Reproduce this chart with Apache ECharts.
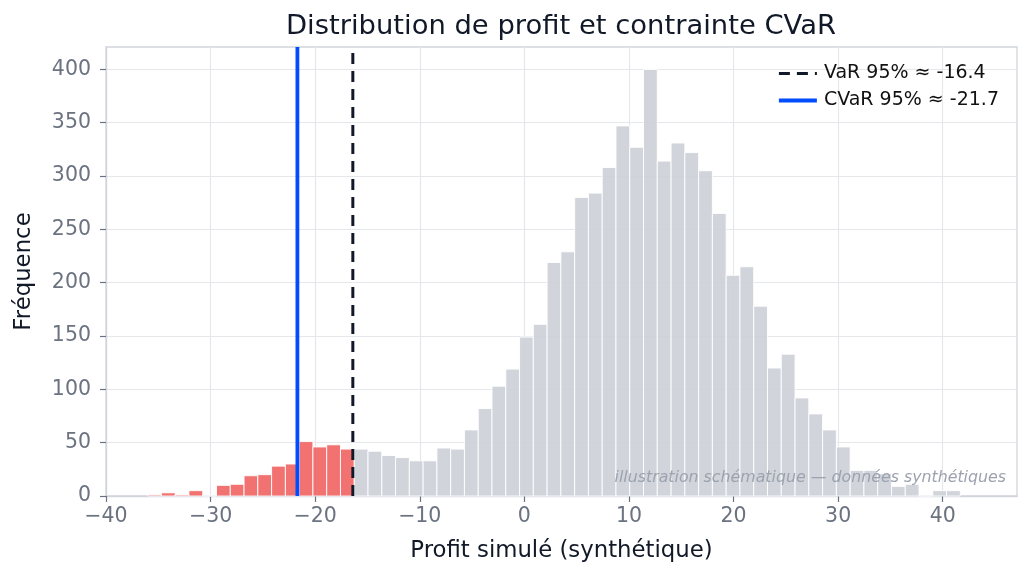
<!doctype html>
<html lang="fr">
<head>
  <meta charset="utf-8">
  <title>Distribution de profit et contrainte CVaR</title>
  <script src="https://cdn.jsdelivr.net/npm/echarts@6/dist/echarts.min.js"></script>
  <style>
    html, body { margin: 0; padding: 0; background: #fff; }
    #chartmain { width: 1030px; height: 580px; }
  </style>
</head>
<body>
<div id="chartmain"></div>
<script>
  // histogram: 59 bins, first edge and width
  var binStart = -36.02;
  var binWidth = 1.317;
  var counts = [1, 3, 1, 5, 0, 10, 11, 19, 20, 28, 30, 51, 46, 48, 44,
                44, 42, 38, 36, 33, 33, 45, 44, 62, 82, 103, 119, 149, 161, 219,
                229, 280, 284, 308, 347, 327, 400, 314, 331, 322, 305, 265, 207, 215, 178,
                120, 133, 92, 77, 62, 46, 24, 24, 21, 9, 11, 0, 5, 5];
  var varValue = -16.4;
  var cvarValue = -21.7;
  var xTicks = [-40, -30, -20, -10, 0, 10, 20, 30, 40];
  var yTicks = [0, 50, 100, 150, 200, 250, 300, 350, 400];

  var font = 'DejaVu Sans';
  var yTop = 421;

  // [left edge, right edge, count, tail flag]
  var bins = [];
  for (var i = 0; i < counts.length; i++) {
    var lo = binStart + i * binWidth;
    var hi = lo + binWidth;
    bins.push([lo, hi, counts[i], (lo + hi) / 2 < varValue ? 1 : 0]);
  }

  function minusSign(v) {
    return String(v).replace('-', '\u2212');
  }

  function renderBin(params, api) {
    var top = api.coord([api.value(0), api.value(2)]);
    var bottom = api.coord([api.value(1), 0]);
    return {
      type: 'rect',
      shape: { x: top[0], y: top[1], width: bottom[0] - top[0], height: bottom[1] - top[1] },
      style: {
        fill: api.value(3) ? '#f16262' : '#ccd0d7',
        opacity: 0.9,
        stroke: '#ffffff',
        lineWidth: 1
      }
    };
  }

  var myChart = echarts.init(document.getElementById('chartmain'));
  var option = {
    backgroundColor: '#ffffff',
    animation: false,
    textStyle: { fontFamily: font },
    grid: {
      left: 106, right: 13, top: 47, bottom: 84,
      show: true, borderColor: '#d1d5db', borderWidth: 1.3, backgroundColor: 'transparent'
    },
    legend: {
      orient: 'vertical',
      left: 772,
      top: 59,
      itemWidth: 38,
      itemHeight: 14,
      itemGap: 8,
      itemStyle: { opacity: 0 },
      lineStyle: { width: 'inherit' },
      textStyle: { fontFamily: font, fontSize: 19, color: '#111111', padding: [0, 0, 0, 2] },
      data: ['VaR 95% \u2248 -16.4', 'CVaR 95% \u2248 -21.7']
    },
    xAxis: {
      type: 'value',
      min: -40,
      max: 47.1,
      interval: 10,
      name: 'Profit simulé (synthétique)',
      nameLocation: 'middle',
      nameGap: 44,
      nameTextStyle: { fontFamily: font, fontSize: 22.8, color: '#111827' },
      axisLine: { show: true, onZero: false, lineStyle: { color: '#d1d5db', width: 1.3 } },
      axisTick: { show: true, length: 6, customValues: xTicks, lineStyle: { color: '#6b7280', width: 1.2 } },
      axisLabel: { customValues: xTicks, margin: 10, fontFamily: font, fontSize: 20.5, color: '#6b7280', formatter: minusSign },
      splitLine: { show: true, lineStyle: { color: '#e5e7eb', width: 1.2 } }
    },
    yAxis: {
      type: 'value',
      min: 0,
      max: yTop,
      interval: 50,
      name: 'Fréquence',
      nameLocation: 'middle',
      nameRotate: 90,
      nameGap: 70,
      nameTextStyle: { fontFamily: font, fontSize: 22.8, color: '#111827' },
      axisLine: { show: true, onZero: false, lineStyle: { color: '#d1d5db', width: 1.3 } },
      axisTick: { show: true, length: 6, customValues: yTicks, lineStyle: { color: '#6b7280', width: 1.2 } },
      axisLabel: { customValues: yTicks, margin: 15, fontFamily: font, fontSize: 20.5, color: '#6b7280' },
      splitLine: { show: true, lineStyle: { color: '#e5e7eb', width: 1.2 } }
    },
    graphic: [
      {
        type: 'text', x: 561, y: 27, z: 10,
        style: { text: 'Distribution de profit et contrainte CVaR', font: '27.4px "DejaVu Sans"',
                 fill: '#111827', textAlign: 'center', textVerticalAlign: 'middle' }
      },
      {
        type: 'text', x: 1006, y: 478, z: 10,
        style: { text: 'illustration schématique — données synthétiques', font: 'italic 15.8px "DejaVu Sans"',
                 fill: '#9ca3af', textAlign: 'right', textVerticalAlign: 'middle' }
      }
    ],
    series: [
      {
        name: 'profit',
        type: 'custom',
        renderItem: renderBin,
        encode: { x: [0, 1], y: 2 },
        data: bins
      },
      {
        name: 'VaR 95% \u2248 -16.4',
        type: 'line',
        symbol: 'none',
        data: [[varValue, 0], [varValue, yTop]],
        itemStyle: { color: '#111827' },
        lineStyle: { color: '#111827', width: 3, type: [11, 7] }
      },
      {
        name: 'CVaR 95% \u2248 -21.7',
        type: 'line',
        symbol: 'none',
        data: [[cvarValue, 0], [cvarValue, yTop]],
        itemStyle: { color: '#004cff' },
        lineStyle: { color: '#004cff', width: 3.8 }
      }
    ]
  };
  myChart.setOption(option);
</script>
</body>
</html>
